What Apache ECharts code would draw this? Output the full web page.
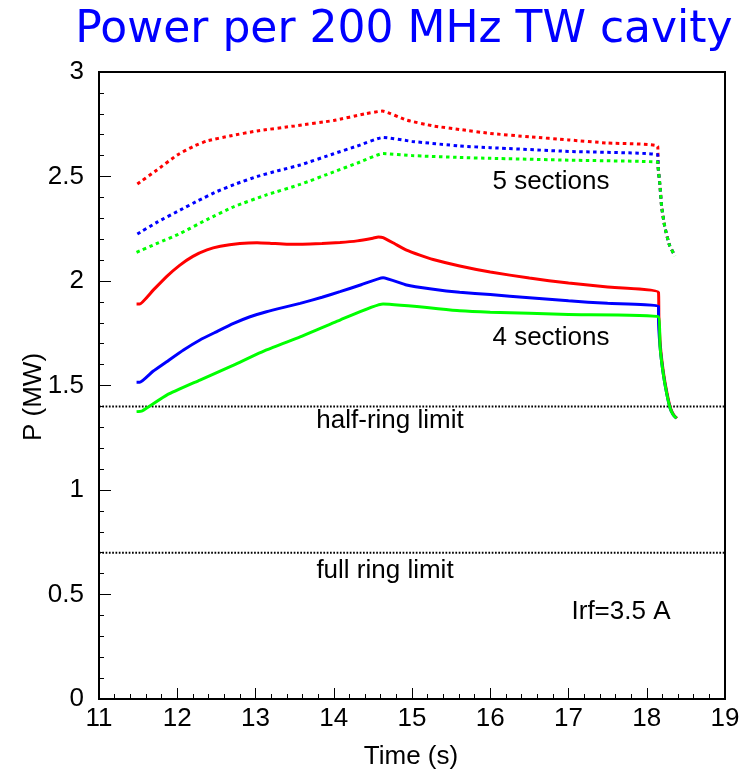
<!DOCTYPE html>
<html>
<head>
<meta charset="utf-8">
<script src="https://cdn.jsdelivr.net/npm/echarts@6/dist/echarts.min.js"></script>
<style>
html,body{margin:0;padding:0;background:#fff;}
#chart{width:747px;height:771px;}
</style>
</head>
<body>
<div id="chart"></div>
<script>
// ---- data (time in s, power in MW) ----
const xTicks = [11, 12, 13, 14, 15, 16, 17, 18, 19];
const yTicks = [0, 0.5, 1, 1.5, 2, 2.5, 3];

const red5 = [[11.49,2.464],[11.74,2.531],[12.0,2.603],[12.2,2.643],[12.38,2.670],[12.67,2.694],[13.02,2.718],[13.5,2.742],[14.0,2.768],[14.4,2.800],[14.62,2.813],[14.93,2.770],[15.27,2.742],[15.61,2.725],[16.0,2.706],[16.5,2.690],[17.0,2.675],[17.5,2.660],[18.14,2.645],[18.145,2.547],[18.17,2.451],[18.19,2.356],[18.23,2.26],[18.29,2.172],[18.36,2.12]];
const blue5 = [[11.49,2.225],[11.75,2.283],[12.04,2.340],[12.27,2.385],[12.5,2.427],[12.76,2.466],[13.02,2.500],[13.3,2.529],[13.57,2.555],[14.0,2.609],[14.3,2.646],[14.63,2.687],[15.0,2.668],[15.61,2.646],[16.0,2.638],[17.0,2.620],[18.14,2.604],[18.145,2.547],[18.17,2.451],[18.19,2.356],[18.23,2.26],[18.29,2.172],[18.36,2.12]];
const green5 = [[11.48,2.137],[11.75,2.181],[12.04,2.228],[12.38,2.294],[12.72,2.355],[13.14,2.412],[13.57,2.462],[14.0,2.522],[14.3,2.564],[14.63,2.610],[15.0,2.600],[15.61,2.591],[16.0,2.587],[17.0,2.578],[18.14,2.569],[18.145,2.547],[18.17,2.451],[18.19,2.356],[18.23,2.26],[18.29,2.172],[18.36,2.12]];

const red4 = [[11.48,1.890],[11.52,1.890],[11.69,1.955],[11.86,2.020],[12.03,2.075],[12.2,2.118],[12.38,2.149],[12.55,2.166],[12.80,2.179],[13.02,2.183],[13.2,2.180],[13.40,2.176],[13.6,2.176],[13.85,2.179],[14.08,2.184],[14.3,2.192],[14.5,2.205],[14.57,2.211],[14.63,2.208],[14.78,2.178],[14.93,2.148],[15.1,2.124],[15.27,2.103],[15.61,2.072],[16.0,2.043],[16.5,2.014],[17.0,1.990],[17.5,1.971],[18.15,1.946],[18.155,1.829],[18.175,1.686],[18.215,1.558],[18.26,1.462],[18.305,1.390],[18.345,1.359],[18.385,1.343]];
const blue4 = [[11.48,1.515],[11.52,1.515],[11.69,1.568],[11.865,1.614],[12.08,1.670],[12.29,1.718],[12.50,1.757],[12.72,1.797],[12.93,1.829],[13.14,1.853],[13.36,1.874],[13.57,1.893],[13.85,1.922],[14.08,1.949],[14.35,1.982],[14.63,2.016],[14.93,1.981],[15.25,1.962],[15.61,1.946],[16.0,1.935],[16.5,1.920],[17.0,1.905],[17.5,1.893],[18.15,1.880],[18.15,1.829],[18.17,1.686],[18.21,1.558],[18.255,1.462],[18.30,1.390],[18.34,1.359],[18.38,1.343]];
const green4 = [[11.48,1.375],[11.55,1.378],[11.87,1.455],[12.29,1.526],[12.72,1.598],[13.14,1.670],[13.57,1.733],[14.08,1.813],[14.63,1.890],[15.61,1.858],[16.0,1.851],[17.0,1.840],[18.15,1.829],[18.17,1.686],[18.21,1.558],[18.255,1.462],[18.30,1.390],[18.34,1.359],[18.38,1.343]];

const limitValues = [1.4, 0.7];
const limitLabels = ['half-ring limit', 'full ring limit'];

// ---- chart ----
const chart = echarts.init(document.getElementById('chart'), null, {renderer: 'canvas'});
const FONT = 'Liberation Sans, Arial, Helvetica, sans-serif';

function curve(data, color, dotted) {
  return {
    type: 'line', data: data, showSymbol: false, symbol: 'none', smooth: 0.15,
    lineStyle: {color: color, width: 3, type: dotted ? [3.5, 3.5] : 'solid', cap: 'butt'},
    z: 3, silent: true, animation: false
  };
}

const series = [
  curve(red5, '#ff0000', true),
  curve(blue5, '#0000ff', true),
  curve(green5, '#00ff00', true),
  curve(red4, '#ff0000', false),
  curve(blue4, '#0000ff', false),
  curve(green4, '#00ff00', false)
];
limitValues.forEach(function (v) {
  series.push({
    type: 'line', data: [[xTicks[0], v], [xTicks[xTicks.length - 1], v]],
    showSymbol: false, symbol: 'none',
    lineStyle: {color: '#000', width: 2, type: [1.7, 1.6]}, z: 2, silent: true, animation: false
  });
});

const option = {
  animation: false,
  backgroundColor: '#fff',
  grid: {left: 99, right: 22, top: 72, bottom: 72, show: true, borderColor: '#000', borderWidth: 2, backgroundColor: 'transparent'},
  xAxis: {
    type: 'value', min: 11, max: 19, interval: 1,
    axisLine: {show: true, onZero: false, lineStyle: {color: '#000', width: 2}},
    axisTick: {show: true, inside: true, length: 11, lineStyle: {color: '#000', width: 1}},
    minorTick: {show: true, splitNumber: 5, length: 5, lineStyle: {color: '#000', width: 1}},
    axisLabel: {color: '#000', fontSize: 26, fontFamily: FONT, margin: 7},
    splitLine: {show: false}, minorSplitLine: {show: false}
  },
  yAxis: {
    type: 'value', min: 0, max: 3, interval: 0.5,
    axisLine: {show: true, onZero: false, lineStyle: {color: '#000', width: 2}},
    axisTick: {show: true, inside: true, length: 12, lineStyle: {color: '#000', width: 1}},
    minorTick: {show: true, splitNumber: 5, length: 5, lineStyle: {color: '#000', width: 1}},
    axisLabel: {color: '#000', fontSize: 26, fontFamily: FONT, margin: 15},
    splitLine: {show: false}, minorSplitLine: {show: false}
  },
  series: series,
  graphic: [
    {type: 'text', style: {text: 'Power per 200 MHz TW cavity', x: 404, y: 31, align: 'center', verticalAlign: 'middle', fill: '#0000ff', font: '44px "DejaVu Sans", sans-serif'}},
    {type: 'text', style: {text: 'Time (s)', x: 411, y: 757, align: 'center', verticalAlign: 'middle', fill: '#000', font: '26px ' + FONT}},
    {type: 'text', x: 34, y: 397, rotation: Math.PI / 2, style: {text: 'P (MW)', x: 0, y: 0, align: 'center', verticalAlign: 'middle', fill: '#000', font: '26px ' + FONT}},
    {type: 'text', style: {text: '5 sections', x: 551, y: 182, align: 'center', verticalAlign: 'middle', fill: '#000', font: '26px ' + FONT}},
    {type: 'text', style: {text: '4 sections', x: 551, y: 338, align: 'center', verticalAlign: 'middle', fill: '#000', font: '26px ' + FONT}},
    {type: 'text', style: {text: limitLabels[0], x: 390, y: 421, align: 'center', verticalAlign: 'middle', fill: '#000', font: '26px ' + FONT}},
    {type: 'text', style: {text: limitLabels[1], x: 385, y: 571, align: 'center', verticalAlign: 'middle', fill: '#000', font: '26px ' + FONT}},
    {type: 'text', style: {text: 'Irf=3.5 A', x: 621, y: 612, align: 'center', verticalAlign: 'middle', fill: '#000', font: '26px ' + FONT}}
  ]
};
chart.setOption(option);
</script>
</body>
</html>
